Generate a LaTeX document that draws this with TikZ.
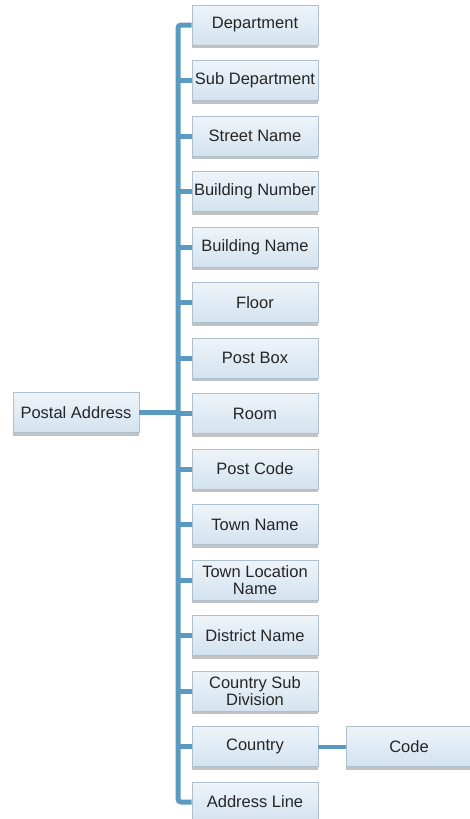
\documentclass[tikz,border=0pt]{standalone}
\usepackage{fontspec}
\setmainfont{Liberation Sans}
\usetikzlibrary{shadows}
\definecolor{conncol}{HTML}{5A9AC0}
\definecolor{boxtop}{HTML}{EEF4F9}
\definecolor{boxbot}{HTML}{D3E3EF}
\definecolor{boxline}{HTML}{AEC0CE}
\tikzset{
  box/.style={rectangle, minimum width=126pt, minimum height=40pt, inner sep=0pt,
    top color=boxtop, bottom color=boxbot, draw=boxline, line width=0.8pt,
    align=center, font=\fontsize{16.5}{16.5}\selectfont\color{black!85},
    drop shadow={shadow xshift=0pt, shadow yshift=-3pt, fill=black!40, opacity=0.6}},
  conn/.style={draw=conncol, line width=5pt},
  thinconn/.style={draw=conncol, line width=4pt}
}
\begin{document}
\begin{tikzpicture}[x=1pt,y=-1pt]
\useasboundingbox (0,0) rectangle (470,819);
\node[box] (c1) at (255,25) {Department};
\node[box] (c2) at (255,80.5) {Sub Department};
\node[box] (c3) at (255,136) {Street Name};
\node[box] (c4) at (255,191.5) {Building Number};
\node[box] (c5) at (255,247) {Building Name};
\node[box] (c6) at (255,302.5) {Floor};
\node[box] (c7) at (255,358) {Post Box};
\node[box] (c8) at (255,413.5) {Room};
\node[box] (c9) at (255,469) {Post Code};
\node[box] (c10) at (255,524.5) {Town Name};
\node[box] (c11) at (255,580) {Town Location\\Name};
\node[box] (c12) at (255,635.5) {District Name};
\node[box] (c13) at (255,691) {Country Sub\\Division};
\node[box] (c14) at (255,746.5) {Country};
\node[box] (c15) at (255,802) {Address Line};
\node[box] (pa) at (76,412.5) {Postal Address};
\node[box] (code) at (409,746.5) {Code};
\coordinate (trunk) at (178,0);
\draw[conn, rounded corners=3pt] (c1.west) -- (c1.west -| trunk) -- (c15.west -| trunk) -- (c15.west);
\foreach \i in {2,...,14} {
  \draw[conn] (c\i.west) -- (c\i.west -| trunk);
}
\draw[conn] (pa.east) -- (pa.east -| trunk);
\draw[thinconn] (c14.east) -- (code.west);
\end{tikzpicture}
\end{document}
